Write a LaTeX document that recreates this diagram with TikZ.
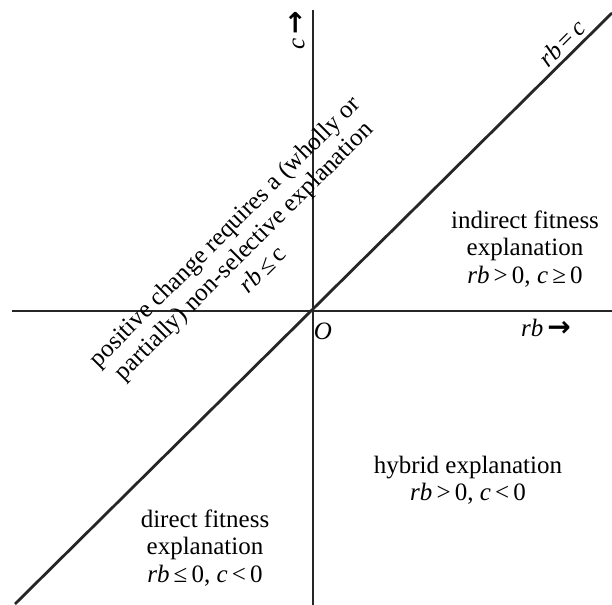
\documentclass[tikz,border=0pt]{standalone}
\usepackage{fontspec}
\setmainfont{Liberation Serif}
\newfontfamily\arrowfont{DejaVu Sans}
\usepackage{tikz}
\usetikzlibrary{positioning,calc}

\newcommand{\axarrow}{{\arrowfont\bfseries\fontsize{14}{14}\selectfont →}}

\begin{document}
\begin{tikzpicture}[
  x=0.5pt,y=0.5pt,
  axis/.style={line width=1.4pt,black!85},
  region/.style={align=center,font=\fontsize{12.5}{13.6}\selectfont},
]
\useasboundingbox (-313,-294) rectangle (299,311);

% Axes and diagonal
\coordinate (O) at (0,0);
\coordinate (xmin) at (-301,0);
\coordinate (xmax) at (299,0);
\coordinate (ymin) at (0,-294);
\coordinate (ymax) at (0,301);
\coordinate (dmin) at (-298,-293);
\coordinate (dmax) at (299,298);
\draw[axis] (xmin) -- (xmax);
\draw[axis] (ymin) -- (ymax);
\draw[axis] (dmin) -- (dmax);

% Axis labels
\node[region,rotate=90] (clab) at (-16,281) {\textit{c}\,\axarrow};
\node[region] (rblab) at (233,-17) {\textit{rb}\,\axarrow};
\node[region] (olab) at (10,-20) {\textit{O}};
\node[region,rotate=45] (diag) at (249,268) {\textit{rb}\,=\,\textit{c}};

% Regions
\node[region] (indirect) at (212,62) {indirect fitness\\explanation\\\textit{rb}\,>\,0, \textit{c}\,≥\,0};
\node[region] (hybrid) at (155,-169) {hybrid explanation\\\textit{rb}\,>\,0, \textit{c}\,<\,0};
\node[region] (direct) at (-108,-237) {direct fitness\\explanation\\\textit{rb}\,≤\,0, \textit{c}\,<\,0};
\node[region,rotate=45] (nonsel) at (-70,61) {positive change requires a (wholly or\\partially) non-selective explanation\\\textit{rb}\,≤\,c};

\end{tikzpicture}
\end{document}
